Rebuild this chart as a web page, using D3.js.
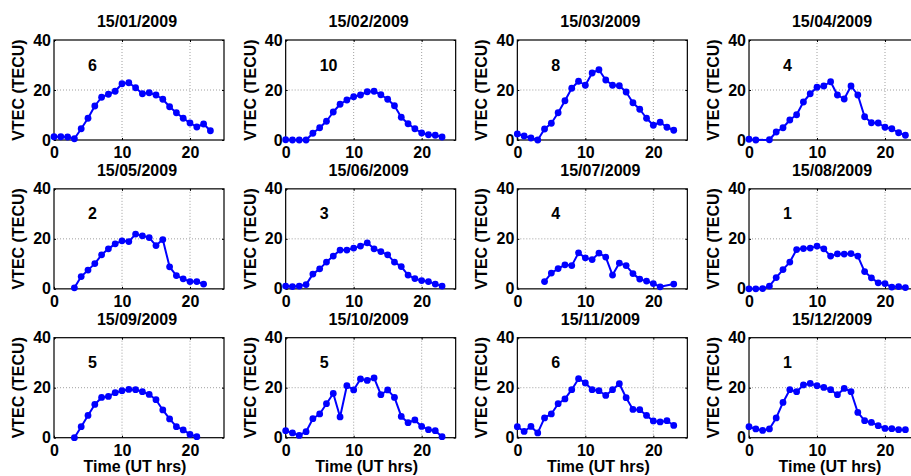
<!DOCTYPE html>
<html>
<head>
<meta charset="utf-8">
<script src="https://cdn.jsdelivr.net/npm/d3@7"></script>
<style>
body { margin: 0; background: #fff; }
text { font-family: "Liberation Sans", Arial, Helvetica, sans-serif; font-weight: bold; }
</style>
</head>
<body>
<div id="chart"></div>
<script>
// hours of the day (UT)
hours = [0,1,2,3,4,5,6,7,8,9,10,11,12,13,14,15,16,17,18,19,20,21,22,23]
dates = ["15/01/2009","15/02/2009","15/03/2009","15/04/2009","15/05/2009","15/06/2009",
         "15/07/2009","15/08/2009","15/09/2009","15/10/2009","15/11/2009","15/12/2009"]
notes = ["6","10","8","4","2","3","4","1","5","5","6","1"]
xTicks = [0,10,20]
yTicks = [0,20,40]

// VTEC values per hour, null = no data
vtecJan = [1.3,1.3,1.2,0.5,4.5,8.7,13.6,17.1,18.3,19.5,22.5,22.9,20.9,18.5,18.9,18.0,16.3,13.3,10.9,8.7,6.8,5.2,6.4,3.7]
vtecFeb = [0.1,0,0,0,2.7,4.9,7.5,11.2,14.3,16.0,17.3,18.0,19.3,19.5,18.1,16.3,13.7,9.1,6.5,4.5,2.8,2.1,1.9,1.2]
vtecMar = [2.4,1.6,0.8,0,4.4,6.7,10.9,15.7,20.7,23.5,21.9,26.8,28.1,24.0,21.9,21.7,19.2,14.9,12.3,8.7,5.9,7.1,5.1,3.9]
vtecApr = [0.3,0,null,0.1,3.2,4.9,8.0,10.1,15.2,18.5,21.1,21.6,23.3,18.0,16.4,21.6,18.0,9.3,6.9,6.8,5.1,4.5,2.9,1.9]
vtecMay = [null,null,null,0.4,4.9,7.5,10.1,13.6,16.0,18.0,19.2,18.9,21.9,21.2,20.5,17.3,19.7,8.8,5.3,4.0,2.9,2.9,1.9,null]
vtecJun = [1.1,0.9,1.1,1.7,5.9,8.0,10.7,13.1,15.5,15.5,16.3,17.1,18.4,16.0,14.9,13.6,10.7,8.9,5.5,4.1,3.3,2.9,1.9,1.1]
vtecJul = [null,null,null,null,2.9,6.3,8.1,9.6,9.3,14.4,12.4,11.7,14.3,12.7,5.5,10.3,9.3,6.1,3.9,3.1,2.1,0.8,null,1.9]
vtecAug = [0,0,0.1,1.1,4.5,7.7,10.7,15.7,16.1,16.3,17.1,16.0,13.1,14.0,13.9,14.1,13.1,6.9,4.4,2.4,2.1,0.7,0.9,0.5]
vtecSep = [null,null,null,0,4.4,8.9,13.3,16.1,16.5,18.0,18.8,19.3,19.2,18.4,17.3,15.2,11.1,7.5,4.4,3.1,1.3,0.4,null,null]
vtecOct = [2.8,1.9,0.9,2.4,7.6,9.5,13.6,17.7,8.3,20.8,19.1,23.5,22.9,23.9,17.2,19.1,16.1,8.5,6.0,7.1,4.5,3.2,2.8,0.4]
vtecNov = [4.4,2.5,4.5,1.9,7.9,9.5,13.6,15.5,19.2,23.6,21.9,19.2,18.8,16.9,19.2,21.6,16.0,11.3,11.2,8.9,6.7,6.3,6.8,4.9]
vtecDec = [4.4,3.5,2.9,3.5,7.9,14.1,19.2,18.4,21.1,21.7,20.8,20.1,19.2,17.2,19.7,18.4,10.1,6.8,6.1,4.8,3.7,3.6,3.2,3.2]

series = [vtecJan,vtecFeb,vtecMar,vtecApr,vtecMay,vtecJun,vtecJul,vtecAug,vtecSep,vtecOct,vtecNov,vtecDec]

const W = 911, H = 476;
const left0 = 54, top0 = 40, colStep = 231.67, rowStep = 148.85;
const pw = 170, ph = 100;
const fs = "16px";

const svg = d3.select("#chart").append("svg")
    .attr("width", W).attr("height", H);

const xScale = d3.scaleLinear().domain([0, 25]).range([0, pw]);
const yScale = d3.scaleLinear().domain([0, 40]).range([ph, 0]);

series.forEach(function (vals, i) {
    const col = i % 4, row = Math.floor(i / 4);
    const g = svg.append("g")
        .attr("transform", "translate(" + (left0 + col * colStep) + "," + (top0 + row * rowStep) + ")");

    // dotted grid
    g.selectAll(".gx").data(xTicks.slice(1)).enter().append("line")
        .attr("x1", d => xScale(d)).attr("x2", d => xScale(d))
        .attr("y1", 0).attr("y2", ph)
        .attr("stroke", "#888").attr("stroke-width", 0.8).attr("stroke-dasharray", "1,2");
    g.selectAll(".gy").data(yTicks.slice(1, 2)).enter().append("line")
        .attr("y1", d => yScale(d)).attr("y2", d => yScale(d))
        .attr("x1", 0).attr("x2", pw)
        .attr("stroke", "#888").attr("stroke-width", 0.8).attr("stroke-dasharray", "1,2");

    // axes with inward ticks
    g.append("g").attr("transform", "translate(0," + ph + ")")
        .call(d3.axisBottom(xScale).tickValues(xTicks).tickSize(-2).tickPadding(7));
    g.append("g")
        .call(d3.axisLeft(yScale).tickValues(yTicks).tickSize(-2).tickPadding(3));
    g.append("g").call(d3.axisTop(xScale).tickValues(xTicks).tickSize(-2).tickFormat(""));
    g.append("g").attr("transform", "translate(" + pw + ",0)")
        .call(d3.axisRight(yScale).tickValues(yTicks).tickSize(-2).tickFormat(""));
    g.selectAll(".domain").remove();
    g.selectAll(".tick line").attr("stroke", "#000");
    g.selectAll(".tick text").attr("fill", "#000").style("font-size", fs)
        .style("font-family", '"Liberation Sans", Arial, sans-serif').style("font-weight", "bold");

    g.append("rect")
        .attr("width", pw).attr("height", ph)
        .attr("fill", "none").attr("stroke", "#000").attr("stroke-width", 1.2);

    // data
    const pts = hours.map((h, k) => ({ h: h, v: vals[k] })).filter(d => d.v !== null);
    const line = d3.line().x(d => xScale(d.h)).y(d => yScale(d.v));
    g.append("path").datum(pts)
        .attr("fill", "none").attr("stroke", "#0000ff").attr("stroke-width", 2)
        .attr("stroke-linejoin", "round")
        .attr("d", line);
    g.selectAll(".pt").data(pts).enter().append("circle")
        .attr("cx", d => xScale(d.h)).attr("cy", d => yScale(d.v))
        .attr("r", 3.4).attr("fill", "#0000ff");

    // annotation number
    g.append("text")
        .attr("x", xScale(5)).attr("y", yScale(30))
        .attr("dy", "0.35em")
        .style("font-size", fs)
        .text(notes[i]);

    // title
    g.append("text")
        .attr("x", pw / 2 - 2).attr("y", -13)
        .attr("text-anchor", "middle")
        .style("font-size", fs)
        .text(dates[i]);

    // y label
    g.append("text")
        .attr("transform", "translate(-30," + (ph / 2) + ") rotate(-90)")
        .attr("text-anchor", "middle")
        .style("font-size", fs)
        .text("VTEC (TECU)");

    if (row == 2) {
        g.append("text")
            .attr("x", pw / 2 - 4).attr("y", ph + 34)
            .attr("text-anchor", "middle")
            .style("font-size", fs)
            .text("Time (UT hrs)");
    }
});
</script>
</body>
</html>
